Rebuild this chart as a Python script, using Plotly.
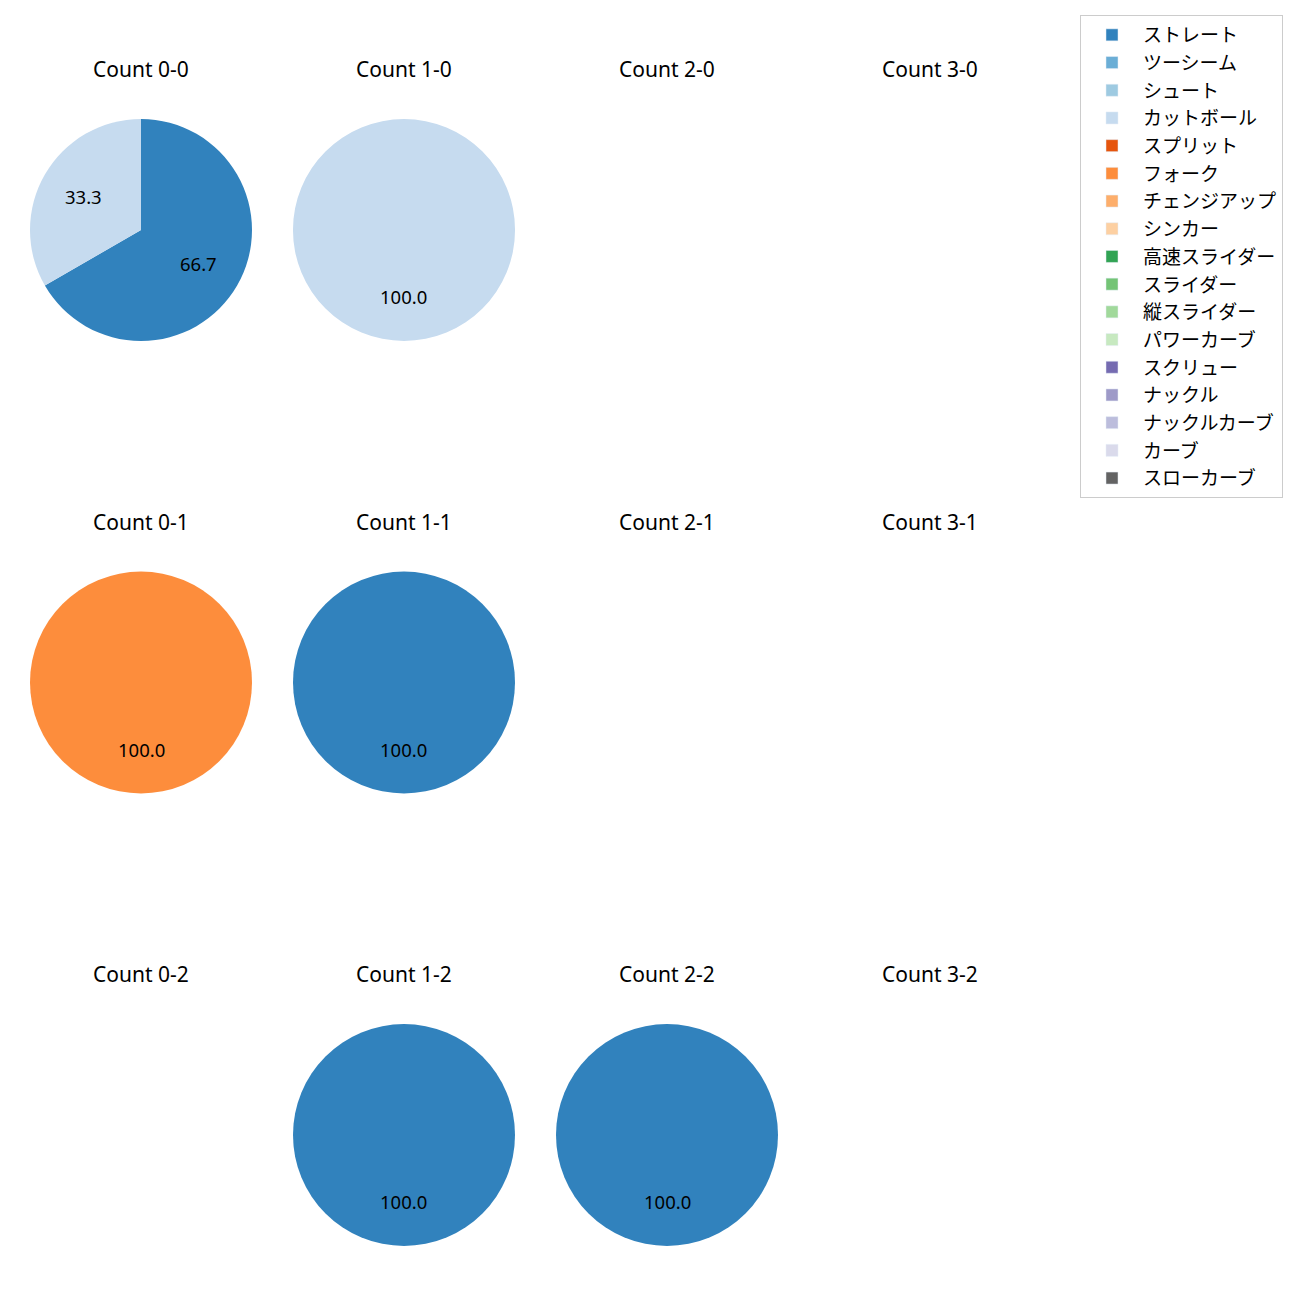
import math
import plotly.graph_objects as go

# ---------------- data ----------------
pitch_types = ["ストレート", "ツーシーム", "シュート", "カットボール", "スプリット", "フォーク",
               "チェンジアップ", "シンカー", "高速スライダー", "スライダー", "縦スライダー",
               "パワーカーブ", "スクリュー", "ナックル", "ナックルカーブ", "カーブ", "スローカーブ"]
pitch_colors = ["#3182bd", "#6baed6", "#9ecae1", "#c6dbef", "#e6550d", "#fd8d3c",
                "#fdae6b", "#fdd0a2", "#31a354", "#74c476", "#a1d99b",
                "#c7e9c0", "#756bb1", "#9e9ac8", "#bcbddc", "#dadaeb", "#636363"]

balls = [0, 1, 2, 3]
strikes = [0, 1, 2]

# pitches thrown in each count (balls-strikes)
count_0_0_labels = ["ストレート", "カットボール"]
count_0_0_values = [2, 1]
count_1_0_labels = ["カットボール"]
count_1_0_values = [1]
count_0_1_labels = ["フォーク"]
count_0_1_values = [1]
count_1_1_labels = ["ストレート"]
count_1_1_values = [1]
count_1_2_labels = ["ストレート"]
count_1_2_values = [1]
count_2_2_labels = ["ストレート"]
count_2_2_values = [1]

cells = {
    (0, 0): (count_0_0_labels, count_0_0_values),
    (1, 0): (count_1_0_labels, count_1_0_values),
    (0, 1): (count_0_1_labels, count_0_1_values),
    (1, 1): (count_1_1_labels, count_1_1_values),
    (1, 2): (count_1_2_labels, count_1_2_values),
    (2, 2): (count_2_2_labels, count_2_2_values),
}

# ---------------- layout geometry (pixels) ----------------
W = H = 1300
X0, DX = 141, 263
Y0, DY = 230, 452.5
R = 111
TITLE_OFF = 161
LATIN = "Noto Sans, Noto Sans CJK JP"
CJK = "Noto Sans CJK JP"

color_of = dict(zip(pitch_types, pitch_colors))

fig = go.Figure()
annotations = []

for s in strikes:
    for b in balls:
        cx = X0 + DX * b
        cy = Y0 + DY * s
        annotations.append(dict(
            x=cx / W, y=1 - (cy - TITLE_OFF) / H, xref="paper", yref="paper",
            text=f"Count {b}-{s}", showarrow=False, xanchor="center", yanchor="middle",
            font=dict(family=LATIN, size=21, color="black")))
        if (b, s) not in cells:
            continue
        labels, values = cells[(b, s)]
        fig.add_trace(go.Pie(
            labels=labels, values=values, sort=False, direction="clockwise", rotation=0,
            marker=dict(colors=[color_of[l] for l in labels], line=dict(width=0)),
            textinfo="none", hoverinfo="label+percent", showlegend=False,
            domain=dict(x=[(cx - R) / W, (cx + R) / W], y=[1 - (cy + R) / H, 1 - (cy - R) / H]),
        ))
        total = sum(values)
        cum = 0.0
        for v in values:
            f = v / total
            theta = math.radians(90 - 360 * (cum + f / 2))
            cum += f
            tx = cx + 0.6 * R * math.cos(theta)
            ty = cy - 0.6 * R * math.sin(theta)
            annotations.append(dict(
                x=tx / W, y=1 - ty / H, xref="paper", yref="paper",
                text=f"{100 * f:.1f}", showarrow=False, xanchor="center", yanchor="middle",
                font=dict(family=LATIN, size=18.5, color="black")))

# legend entries
for name, col in zip(pitch_types, pitch_colors):
    fig.add_trace(go.Bar(x=[None], y=[None], name=name, marker_color=col,
                         legendgroup=name, showlegend=True))

fig.update_layout(
    width=W, height=H,
    margin=dict(l=0, r=0, t=0, b=0),
    paper_bgcolor="white", plot_bgcolor="white",
    xaxis=dict(visible=False), yaxis=dict(visible=False),
    annotations=annotations,
    showlegend=True,
    legend=dict(x=1283 / W, y=1 - 15 / H, xanchor="right", yanchor="top",
                bgcolor="white", bordercolor="#cccccc", borderwidth=1,
                font=dict(family=CJK, size=19, color="black"),
                tracegroupgap=0, itemwidth=52),
    font=dict(family=LATIN),
)

fig.write_html("out.html", config={"displayModeBar": False},
               post_script="document.body.style.margin='0';")
